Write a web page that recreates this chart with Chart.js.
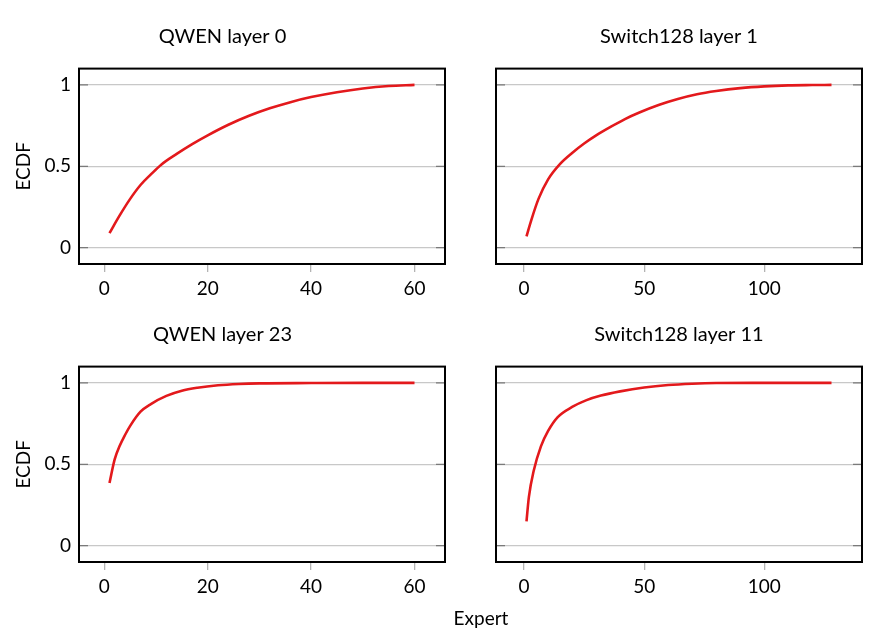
<!DOCTYPE html>
<html>
<head>
<meta charset="utf-8">
<script src="https://cdn.jsdelivr.net/npm/chart.js@4"></script>
<style>
  body { margin: 0; background: #fff; width: 880px; height: 637px; position: relative; overflow: hidden; }
  canvas { position: absolute; }
  #xlabel { position: absolute; left: 481px; top: 617px; transform: translate(-50%, -50%);
            font: 19px Lato, sans-serif; color: #000; }
</style>
</head>
<body>
<canvas id="c1" width="460" height="310" style="left:0;top:0"></canvas>
<canvas id="c2" width="420" height="310" style="left:460px;top:0"></canvas>
<canvas id="c3" width="460" height="327" style="left:0;top:310px"></canvas>
<canvas id="c4" width="420" height="327" style="left:460px;top:310px"></canvas>
<div id="xlabel">Expert</div>
<script>
// values
const qwen0_x = [1, 3, 5, 7, 9, 11, 14, 17, 20, 24, 28, 32, 36, 40, 45, 50, 55, 60];
const qwen0_y = [0.09, 0.2, 0.3, 0.385, 0.45, 0.51, 0.576, 0.636, 0.69, 0.755, 0.81, 0.856, 0.894, 0.925, 0.955, 0.978, 0.993, 1.0];

const switch1_x = [1, 3, 6, 10, 15, 20, 25, 30, 36, 42, 48, 56, 64, 72, 80, 90, 100, 110, 120, 128];
const switch1_y = [0.07, 0.17, 0.3, 0.42, 0.515, 0.582, 0.64, 0.69, 0.742, 0.79, 0.83, 0.876, 0.913, 0.942, 0.962, 0.98, 0.991, 0.997, 0.999, 1.0];

const qwen23_x = [1, 2, 3, 4, 5, 7, 9, 12, 15, 18, 22, 26, 30, 40, 50, 60];
const qwen23_y = [0.385, 0.53, 0.615, 0.68, 0.736, 0.823, 0.87, 0.92, 0.952, 0.97, 0.985, 0.993, 0.997, 0.999, 1.0, 1.0];

const switch11_x = [1, 2, 4, 7, 10, 14, 20, 26, 32, 40, 50, 60, 70, 80, 100, 128];
const switch11_y = [0.15, 0.3, 0.46, 0.61, 0.705, 0.79, 0.852, 0.894, 0.922, 0.948, 0.972, 0.987, 0.995, 0.999, 1.0, 1.0];

const y_ticks = [0, 0.5, 1];
const x_ticks_60 = [0, 20, 40, 60];
const x_ticks_128 = [0, 50, 100];

const FONT = "Lato, 'Open Sans', sans-serif";
const RED = "#e3191c";

// black frame + little inner ticks at the y grid lines
const framePlugin = {
    id: "frame",
    afterDraw(chart) {
        const { ctx, chartArea: a } = chart;
        const ys = chart.scales.y;
        ctx.save();
        ctx.strokeStyle = "#7a7a7a";
        ctx.lineWidth = 1.3;
        y_ticks.forEach((v) => {
            const py = ys.getPixelForValue(v);
            ctx.beginPath();
            ctx.moveTo(a.left, py); ctx.lineTo(a.left + 9, py);
            ctx.moveTo(a.right - 9, py); ctx.lineTo(a.right, py);
            ctx.stroke();
        });
        ctx.strokeStyle = "#000";
        ctx.lineWidth = 2;
        ctx.strokeRect(a.left, a.top, a.right - a.left, a.bottom - a.top);
        ctx.restore();
    },
};

const make_panel = (id, xs, ys, o) => {
    const ctx = document.getElementById(id).getContext("2d");
    return new Chart(ctx, {
        type: "line",
        data: {
            datasets: [{
                data: xs.map((x, i) => ({ x, y: ys[i] })),
                borderColor: RED,
                borderWidth: 2.6,
                pointRadius: 0,
                cubicInterpolationMode: "monotone",
                fill: false,
            }],
        },
        options: {
            responsive: false,
            animation: false,
            layout: { padding: o.padding },
            plugins: {
                legend: { display: false },
                tooltip: { enabled: false },
                title: {
                    display: true,
                    text: o.title,
                    color: "#000",
                    font: { family: FONT, size: 20, weight: "normal" },
                    padding: o.titlePad,
                },
            },
            scales: {
                x: {
                    type: "linear",
                    min: o.xMin,
                    max: o.xMax,
                    afterBuildTicks: (s) => { s.ticks = o.xTicks.map((v) => ({ value: v })); },
                    afterFit: (s) => { s.height = 46; },
                    grid: { drawOnChartArea: false, drawTicks: true, tickLength: 8, color: "#b4b4b4", lineWidth: 1.3 },
                    border: { display: false },
                    ticks: { color: "#000", font: { family: FONT, size: 19 }, padding: 5, maxRotation: 0 },
                },
                y: {
                    min: -0.1,
                    max: 1.1,
                    afterBuildTicks: (s) => { s.ticks = y_ticks.map((v) => ({ value: v })); },
                    afterFit: (s) => { s.width = o.yWidth; },
                    grid: { color: "#c8c8c8", lineWidth: 1.3, drawTicks: false },
                    border: { display: false },
                    title: {
                        display: o.showY,
                        text: "ECDF",
                        color: "#000",
                        font: { family: FONT, size: 19 },
                        padding: { top: 12, bottom: 0 },
                    },
                    ticks: {
                        display: o.showY,
                        color: "#000",
                        font: { family: FONT, size: 19 },
                        padding: 8,
                        callback: (v) => String(v),
                    },
                },
            },
        },
        plugins: [framePlugin],
    });
};

make_panel("c1", qwen0_x, qwen0_y, {
    title: "QWEN layer 0", xMin: -4.9, xMax: 65.9, xTicks: x_ticks_60, showY: true, yWidth: 79,
    padding: { left: 0, right: 15, top: 0, bottom: 0 }, titlePad: { top: 24.6, bottom: 20 },
});
make_panel("c2", switch1_x, switch1_y, {
    title: "Switch128 layer 1", xMin: -11.7, xMax: 140.7, xTicks: x_ticks_128, showY: false, yWidth: 0,
    padding: { left: 36, right: 18, top: 0, bottom: 0 }, titlePad: { top: 24.6, bottom: 20 },
});
make_panel("c3", qwen23_x, qwen23_y, {
    title: "QWEN layer 23", xMin: -4.9, xMax: 65.9, xTicks: x_ticks_60, showY: true, yWidth: 79,
    padding: { left: 0, right: 15, top: 0, bottom: 29 }, titlePad: { top: 12.6, bottom: 20 },
});
make_panel("c4", switch11_x, switch11_y, {
    title: "Switch128 layer 11", xMin: -11.7, xMax: 140.7, xTicks: x_ticks_128, showY: false, yWidth: 0,
    padding: { left: 36, right: 18, top: 0, bottom: 29 }, titlePad: { top: 12.6, bottom: 20 },
});
</script>
</body>
</html>
